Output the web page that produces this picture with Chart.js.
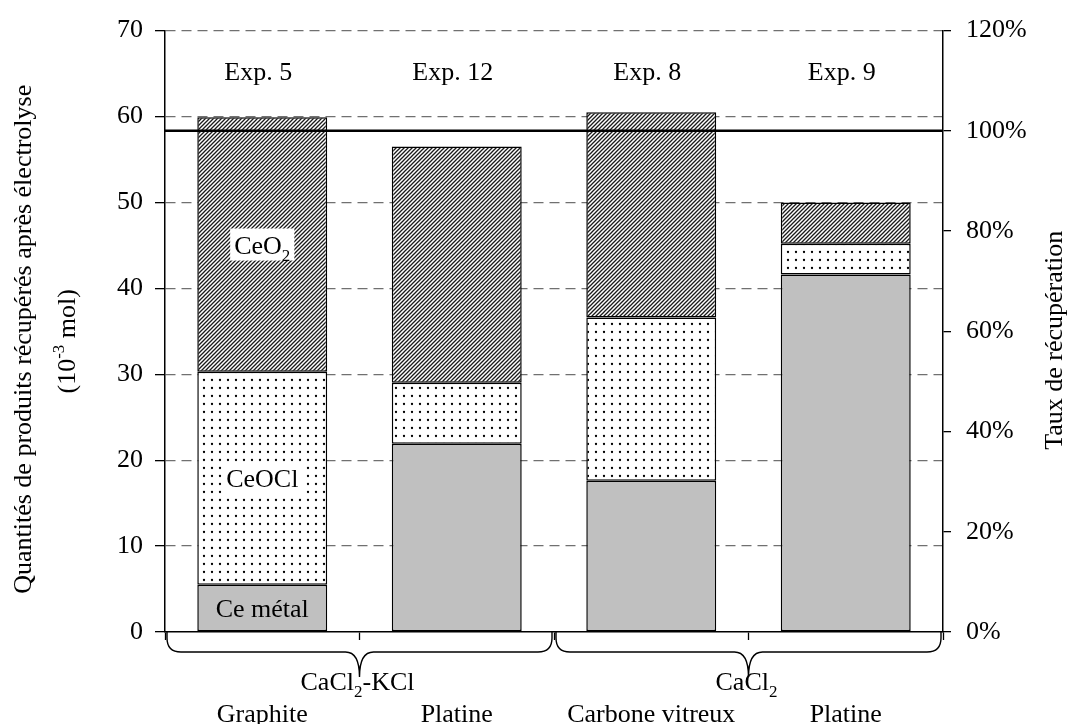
<!DOCTYPE html>
<html>
<head>
<meta charset="utf-8">
<title>Produits récupérés après électrolyse</title>
<script src="https://cdn.jsdelivr.net/npm/chart.js@4.4.1/dist/chart.umd.min.js"></script>
<style>
    html, body { margin: 0; padding: 0; background: #fff; }
</style>
</head>
<body>
<canvas id="recoveryChart" width="1072" height="724"></canvas>
<script>
// Quantities in 10^-3 mol, one value per experiment
var experiments = ['Exp. 5', 'Exp. 12', 'Exp. 8', 'Exp. 9'];
var electrodes = ['Graphite', 'Platine', 'Carbone vitreux', 'Platine'];
var baths = ['CaCl_2-KCl', 'CaCl_2'];          // each bath covers two experiments
var seriesNames = ['Ce métal', 'CeOCl', 'CeO_2'];
var ceMetal = [5.5, 21.9, 17.6, 41.6];
var ceOCl = [24.8, 7.1, 19.0, 3.6];
var ceO2 = [29.6, 27.5, 23.9, 4.8];
var molTicks = [0, 10, 20, 30, 40, 50, 60, 70];
var rateTicks = [0, 20, 40, 60, 80, 100, 120];
var fullRecovery = 100;                       // % line

var FONT = '"Liberation Serif", "Times New Roman", serif';
var SIZE = 26;

Chart.defaults.font.family = FONT;
Chart.defaults.font.size = SIZE;
Chart.defaults.color = '#000';

// text with _x subscripts and ^{..} superscripts
function richParts(str) {
    var parts = [], re = /([_^])(\{[^}]*\}|.)/g, last = 0, m;
    while ((m = re.exec(str))) {
        if (m.index > last) parts.push({ t: str.slice(last, m.index), k: '' });
        parts.push({ t: m[2].charAt(0) === '{' ? m[2].slice(1, -1) : m[2], k: m[1] });
        last = re.lastIndex;
    }
    if (last < str.length) parts.push({ t: str.slice(last), k: '' });
    return parts;
}

function measureRich(ctx, str, size) {
    var parts = richParts(str), total = 0;
    parts.forEach(function(p) {
        ctx.font = (p.k ? Math.round(size * 0.65) : size) + 'px ' + FONT;
        p.w = ctx.measureText(p.t).width;
        total += p.w;
    });
    return { parts: parts, width: total };
}

function drawRich(ctx, str, x, y, size) {
    var r = measureRich(ctx, str, size);
    var cx = x - r.width / 2;
    ctx.textAlign = 'left';
    ctx.textBaseline = 'alphabetic';
    ctx.fillStyle = '#000';
    r.parts.forEach(function(p) {
        var dy = p.k === '_' ? size * 0.28 : (p.k === '^' ? -size * 0.42 : 0);
        ctx.font = (p.k ? Math.round(size * 0.65) : size) + 'px ' + FONT;
        ctx.fillText(p.t, cx, y + dy);
        cx += p.w;
    });
    return r.width;
}

var canvas = document.getElementById('recoveryChart');
var mainCtx = canvas.getContext('2d');

function hatchPattern() {
    var c = document.createElement('canvas');
    c.width = 4; c.height = 4;
    var p = c.getContext('2d');
    p.fillStyle = '#fff';
    p.fillRect(0, 0, 4, 4);
    p.strokeStyle = '#1a1a1a';
    p.lineWidth = 1.3;
    p.beginPath();
    p.moveTo(-1, 5); p.lineTo(5, -1);
    p.moveTo(-1, 1); p.lineTo(1, -1);
    p.moveTo(3, 5); p.lineTo(5, 3);
    p.stroke();
    return mainCtx.createPattern(c, 'repeat');
}

function dotPattern() {
    var c = document.createElement('canvas');
    c.width = 8; c.height = 8;
    var p = c.getContext('2d');
    p.fillStyle = '#fff';
    p.fillRect(0, 0, 8, 8);
    p.fillStyle = '#000';
    p.beginPath();
    p.arc(4, 4, 1.15, 0, Math.PI * 2);
    p.fill();
    return mainCtx.createPattern(c, 'repeat');
}

function brace(ctx, x0, x1, top) {
    var h = top + 20, tip = top + 45, r = 14, mid = (x0 + x1) / 2;
    ctx.beginPath();
    ctx.moveTo(x0, top);
    ctx.lineTo(x0, h - r);
    ctx.quadraticCurveTo(x0, h, x0 + r, h);
    ctx.lineTo(mid - r, h);
    ctx.quadraticCurveTo(mid, h, mid, tip);
    ctx.quadraticCurveTo(mid, h, mid + r, h);
    ctx.lineTo(x1 - r, h);
    ctx.quadraticCurveTo(x1, h, x1, h - r);
    ctx.lineTo(x1, top);
    ctx.stroke();
}

var annotations = {
    id: 'annotations',
    afterDatasetsDraw: function(chart) {
        var ctx = chart.ctx, area = chart.chartArea;
        var x = chart.scales.x, y1 = chart.scales.y1;

        ctx.save();
        // 100 % recovery line
        var ly = y1.getPixelForValue(fullRecovery);
        ctx.strokeStyle = '#000';
        ctx.lineWidth = 2.5;
        ctx.beginPath();
        ctx.moveTo(area.left, ly);
        ctx.lineTo(area.right, ly);
        ctx.stroke();

        // experiment numbers
        experiments.forEach(function(e, i) {
            drawRich(ctx, e, x.getPixelForValue(i) - 4, area.top + 49, SIZE);
        });

        // product names on the first bar
        seriesNames.forEach(function(name, d) {
            var bar = chart.getDatasetMeta(d).data[0];
            var mid = (bar.y + bar.base) / 2;
            if (d > 0) {
                var w = measureRich(ctx, name, SIZE).width;
                ctx.fillStyle = '#fff';
                ctx.fillRect(bar.x - w / 2 - 4, mid - 16, w + 8, 32);
            }
            drawRich(ctx, name, bar.x, mid + 9, SIZE);
        });
        ctx.restore();
    },
    afterDraw: function(chart) {
        var ctx = chart.ctx, area = chart.chartArea, x = chart.scales.x;
        var cat = (area.right - area.left) / experiments.length;

        ctx.save();
        ctx.strokeStyle = '#000';
        ctx.lineWidth = 1.4;
        baths.forEach(function(b, i) {
            var x0 = x.getPixelForValue(2 * i) - cat / 2 + 2;
            var x1 = x.getPixelForValue(2 * i + 1) + cat / 2 - 2;
            brace(ctx, x0, x1, area.bottom);
            drawRich(ctx, b, (x0 + x1) / 2 - 2, area.bottom + 58, SIZE);
        });

        // axis titles
        var cy = (area.top + area.bottom) / 2;
        ctx.save();
        ctx.translate(31, cy + 8);
        ctx.rotate(-Math.PI / 2);
        drawRich(ctx, 'Quantités de produits récupérés après électrolyse', 0, 0, SIZE);
        ctx.restore();

        ctx.save();
        ctx.translate(75, cy + 10);
        ctx.rotate(-Math.PI / 2);
        drawRich(ctx, '(10^{-3} mol)', 0, 0, SIZE);
        ctx.restore();

        ctx.save();
        ctx.translate(1062, cy + 9);
        ctx.rotate(-Math.PI / 2);
        drawRich(ctx, 'Taux de récupération', 0, 0, SIZE);
        ctx.restore();
        ctx.restore();
    }
};

var barStyle = {
    borderColor: '#000',
    borderWidth: 1.5,
    borderSkipped: false,
    barPercentage: 0.668,
    categoryPercentage: 1,
    yAxisID: 'y'
};

var recoveryChart = new Chart(mainCtx, {
    type: 'bar',
    data: {
        labels: electrodes,
        datasets: [
            Object.assign({ label: seriesNames[0], data: ceMetal, backgroundColor: '#c0c0c0' }, barStyle),
            Object.assign({ label: seriesNames[1], data: ceOCl, backgroundColor: dotPattern() }, barStyle),
            Object.assign({ label: seriesNames[2], data: ceO2, backgroundColor: hatchPattern() }, barStyle)
        ]
    },
    options: {
        responsive: false,
        animation: false,
        layout: { padding: { top: 27, left: 0, right: 0, bottom: 0 } },
        plugins: {
            legend: { display: false },
            tooltip: { enabled: false }
        },
        scales: {
            x: {
                stacked: true,
                grid: { offset: true, drawOnChartArea: false, tickLength: 8, tickColor: '#000', tickWidth: 1.3 },
                border: { color: '#000', width: 1.5 },
                ticks: { padding: 60, color: '#000', maxRotation: 0, autoSkip: false },
                afterFit: function(s) { s.height = 92; }
            },
            y: {
                stacked: true,
                min: molTicks[0],
                max: molTicks[molTicks.length - 1],
                afterBuildTicks: function(s) {
                    s.ticks = molTicks.map(function(v) { return { value: v }; });
                },
                ticks: { padding: 12, color: '#000' },
                grid: {
                    color: function(c) { return c.tick && c.tick.value === 0 ? 'rgba(0,0,0,0)' : '#707070'; },
                    lineWidth: 1.3,
                    tickColor: '#000',
                    tickLength: 10
                },
                border: { color: '#000', width: 1.5, dash: [10, 6] },
                afterFit: function(s) { s.width = 165; }
            },
            y1: {
                position: 'right',
                min: rateTicks[0],
                max: rateTicks[rateTicks.length - 1],
                afterBuildTicks: function(s) {
                    s.ticks = rateTicks.map(function(v) { return { value: v }; });
                },
                ticks: {
                    padding: 15,
                    color: '#000',
                    callback: function(v) { return v + '%'; }
                },
                grid: { drawOnChartArea: false, tickColor: '#000', tickLength: 8, lineWidth: 1.3 },
                border: { color: '#000', width: 1.5 },
                afterFit: function(s) { s.width = 129; }
            }
        }
    },
    plugins: [annotations]
});
</script>
</body>
</html>
